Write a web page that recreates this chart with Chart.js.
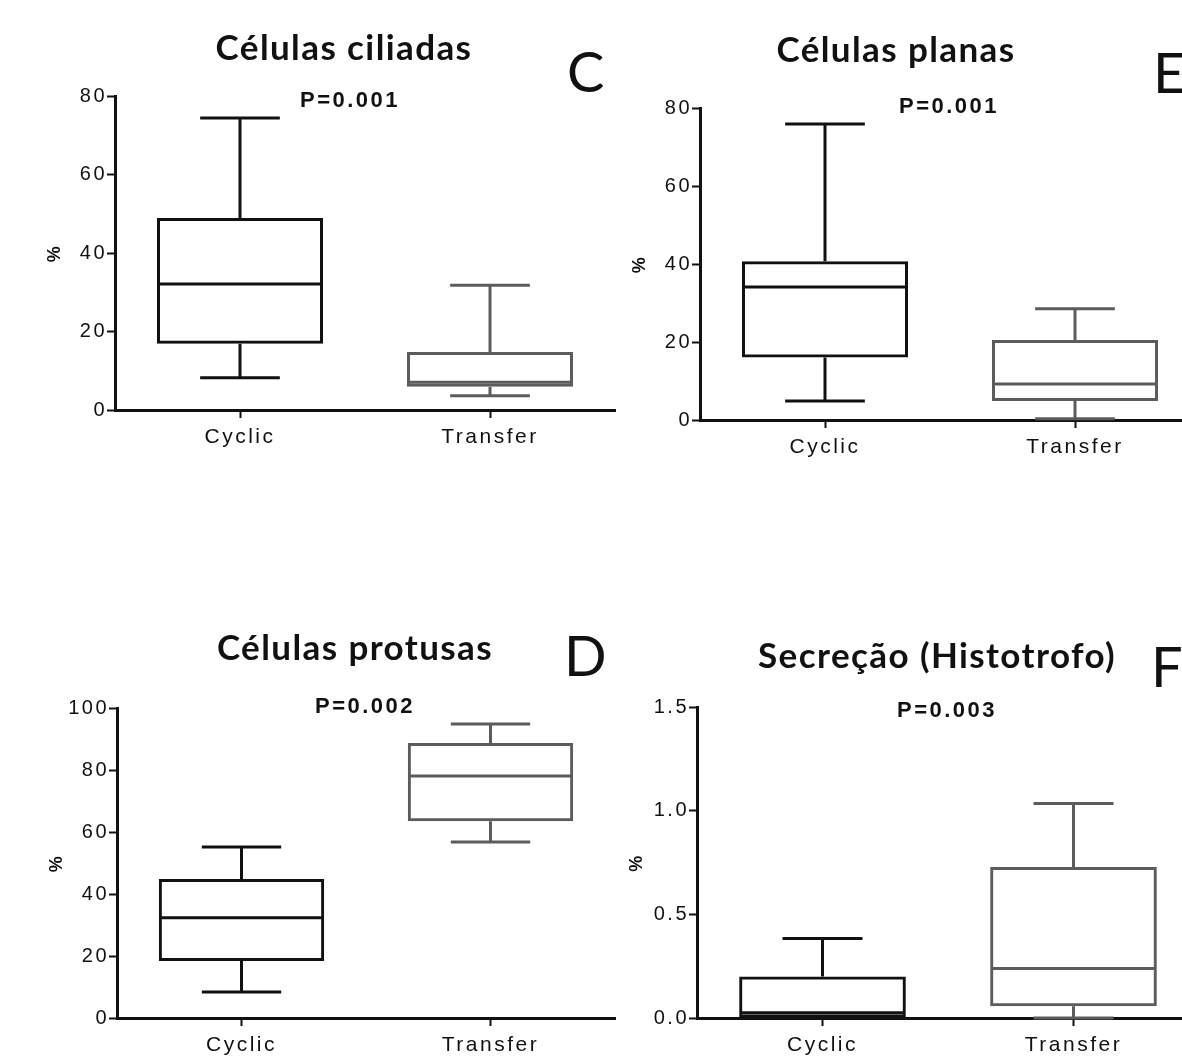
<!DOCTYPE html>
<html><head><meta charset="utf-8">
<script src="https://cdn.jsdelivr.net/npm/chart.js@4.4.1/dist/chart.umd.min.js"></script>
<style>
html,body{margin:0;padding:0;background:#fff;width:1182px;height:1060px;overflow:hidden;position:relative}
canvas{position:absolute}
.t{position:absolute;white-space:nowrap;line-height:1;color:#111}
.title{font-family:Lato,sans-serif;font-weight:bold;font-size:35px;letter-spacing:1.4px;transform:translateX(-50%)}
.letter{font-family:Lato,sans-serif;font-size:56px}
.p{font-family:"Liberation Sans",Arial,sans-serif;font-weight:bold;font-size:22px;letter-spacing:2.5px}
</style></head><body>
<canvas id="cC" width="620" height="460" style="left:0px;top:0px"></canvas>
<canvas id="cE" width="620" height="458" style="left:585px;top:12px"></canvas>
<canvas id="cD" width="618" height="456" style="left:2px;top:612px"></canvas>
<canvas id="cF" width="622" height="457" style="left:582px;top:611px"></canvas>

<div class="t title" style="left:344px;top:29px">Células ciliadas</div>
<div class="t title" style="left:896px;top:31px">Células planas</div>
<div class="t title" style="left:355px;top:629px">Células protusas</div>
<div class="t title" style="left:937px;top:637px">Secreção (Histotrofo)</div>

<div class="t letter" style="left:567px;top:43px">C</div>
<div class="t letter" style="left:1153px;top:44px">E</div>
<div class="t letter" style="left:564px;top:627px">D</div>
<div class="t letter" style="left:1151px;top:638px">F</div>

<div class="t p" style="left:300px;top:89px">P=0.001</div>
<div class="t p" style="left:899px;top:95px">P=0.001</div>
<div class="t p" style="left:315px;top:695px">P=0.002</div>
<div class="t p" style="left:897px;top:699px">P=0.003</div>

<script>
// Categories
const categories = ['Cyclic', 'Transfer'];

// Box statistics per group: [min, Q1, median, Q3, max]
const ciliadasCyclic   = [8.2, 16.9, 32.1, 48.9, 74.4];
const ciliadasTransfer = [3.6, 5.9, 7.1, 14.8, 31.8];
const planasCyclic     = [4.9, 16.0, 34.1, 40.7, 75.9];
const planasTransfer   = [0.3, 4.9, 9.2, 20.5, 28.5];
const protusasCyclic   = [8.4, 18.4, 32.3, 44.8, 55.2];
const protusasTransfer = [56.8, 63.5, 78.1, 88.7, 94.8];
const secrecaoCyclic   = [0.0, 0.0, 0.025, 0.2, 0.383];
const secrecaoTransfer = [0.0, 0.057, 0.239, 0.728, 1.034];

// Y tick values and labels
const ticks80Values  = [0, 20, 40, 60, 80];
const ticks80Labels  = ['0', '20', '40', '60', '80'];
const ticks100Values = [0, 20, 40, 60, 80, 100];
const ticks100Labels = ['0', '20', '40', '60', '80', '100'];
const ticks15Values  = [0, 0.5, 1.0, 1.5];
const ticks15Labels  = ['0.0', '0.5', '1.0', '1.5'];

const boxColors = ['#111111', '#5c5c5c'];

const boxPlugin = {
  id: 'boxWhisker',
  afterDatasetsDraw(chart, args, opts) {
    const ctx = chart.ctx, y = chart.scales.y;
    const meta = chart.getDatasetMeta(0);
    opts.stats.forEach((s, i) => {
      const bar = meta.data[i];
      const cx = bar.x, half = bar.width / 2, cap = bar.width * 0.24;
      const py = v => y.getPixelForValue(v);
      ctx.save();
      ctx.strokeStyle = opts.colors[i];
      ctx.lineWidth = 3;
      ctx.lineCap = 'butt';
      ctx.beginPath();
      ctx.moveTo(cx, py(s[3])); ctx.lineTo(cx, py(s[4]));
      ctx.moveTo(cx - cap, py(s[4])); ctx.lineTo(cx + cap, py(s[4]));
      ctx.moveTo(cx, py(s[1])); ctx.lineTo(cx, py(s[0]));
      ctx.moveTo(cx - cap, py(s[0])); ctx.lineTo(cx + cap, py(s[0]));
      ctx.moveTo(cx - half + 1, py(s[2])); ctx.lineTo(cx + half - 1, py(s[2]));
      ctx.stroke();
      ctx.restore();
    });
  }
};

const spacingPlugin = {
  id: 'spacing',
  beforeDraw(chart) { chart.ctx.letterSpacing = '2.5px'; }
};

function makeChart(id, stats, tickVals, tickLabels) {
  return new Chart(document.getElementById(id), {
    type: 'bar',
    data: {
      labels: categories,
      datasets: [{
        data: stats.map(s => [s[1], s[3]]),
        backgroundColor: 'rgba(255,255,255,0)',
        borderColor: boxColors,
        borderWidth: 3,
        borderSkipped: false,
        barPercentage: 0.664,
        categoryPercentage: 1,
        clip: false
      }]
    },
    options: {
      responsive: false,
      animation: false,
      events: [],
      layout: { padding: { left: 41, top: 96, right: 5, bottom: 0 } },
      plugins: {
        legend: { display: false },
        tooltip: { enabled: false },
        boxWhisker: { stats: stats, colors: boxColors }
      },
      scales: {
        x: {
          type: 'category',
          offset: true,
          grid: { display: true, drawOnChartArea: false, offset: false, tickLength: 8, tickWidth: 2, tickColor: '#111' },
          border: { color: '#111', width: 3 },
          ticks: { color: '#111', font: { family: 'Liberation Sans', size: 21 }, padding: 7, maxRotation: 0 },
          afterFit(s) { s.height = 50; }
        },
        y: {
          min: tickVals[0],
          max: tickVals[tickVals.length - 1],
          grid: { drawOnChartArea: false, tickLength: 8, tickWidth: 2, tickColor: '#111' },
          border: { color: '#111', width: 3 },
          ticks: { color: '#111', font: { family: 'Liberation Sans', size: 20 }, padding: 0,
                   callback: (v, i) => tickLabels[i] },
          afterBuildTicks(s) { s.ticks = tickVals.map(v => ({ value: v })); },
          afterFit(s) { s.width = 74; },
          title: { display: true, text: '%', color: '#111',
                   font: { family: 'Liberation Sans', size: 18, weight: 'bold' }, padding: { top: 3, bottom: 0 } }
        }
      }
    },
    plugins: [boxPlugin, spacingPlugin]
  });
}

makeChart('cC', [ciliadasCyclic, ciliadasTransfer], ticks80Values, ticks80Labels);
makeChart('cE', [planasCyclic, planasTransfer], ticks80Values, ticks80Labels);
makeChart('cD', [protusasCyclic, protusasTransfer], ticks100Values, ticks100Labels);
makeChart('cF', [secrecaoCyclic, secrecaoTransfer], ticks15Values, ticks15Labels);
</script>
</body></html>
